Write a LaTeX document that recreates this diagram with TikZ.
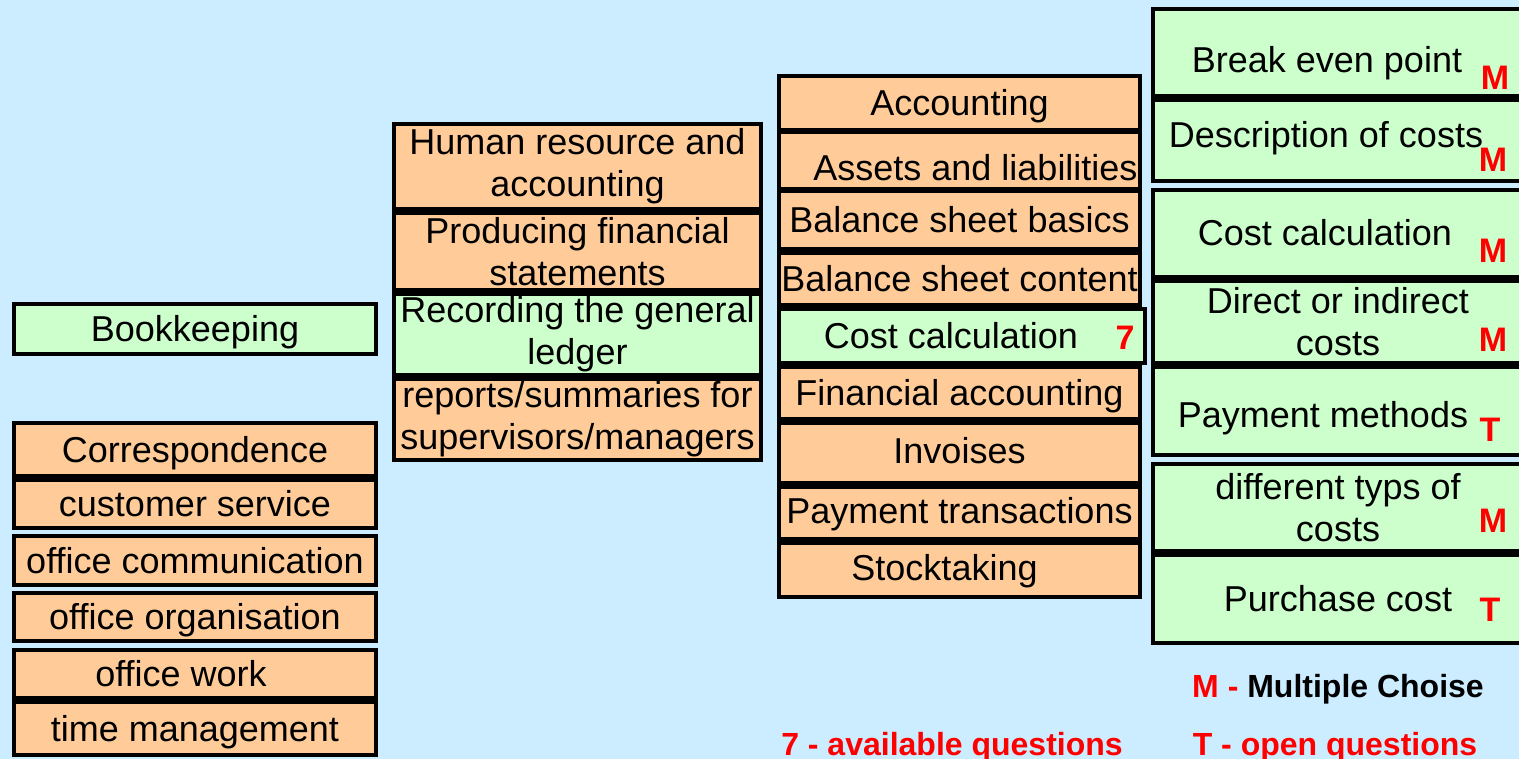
\documentclass[tikz,border=0pt]{standalone}
\usepackage{fontspec}
\setmainfont{Liberation Sans}
\definecolor{bgblue}{HTML}{CCECFF}
\definecolor{boxorange}{HTML}{FFCC99}
\definecolor{boxgreen}{HTML}{CCFFCC}
\tikzset{
  cell/.style={draw, line width=4pt, inner sep=0pt, font=\fontsize{36}{42}\selectfont},
  one/.style={cell, text height=32.6pt, text depth=7.6pt},
  two/.style={cell, align=center},
  og/.style={fill=boxorange},
  gr/.style={fill=boxgreen},
  qtag/.style={inner sep=0pt, text=red, font=\fontsize{34}{34}\selectfont\bfseries},
  legend/.style={anchor=base, inner sep=0pt, font=\fontsize{32}{32}\selectfont\bfseries}
}

\begin{document}
\begin{tikzpicture}[x=1pt, y=-1pt]
  \useasboundingbox (0,0) rectangle (1519,759);
  \fill[bgblue] (0,0) rectangle (1519,759);

  % 左列
  \node[one, gr, minimum width=362pt, minimum height=50pt] (book) at (195,329) {Bookkeeping};
  \foreach \n/\y/\h/\t in {1/449.5/53/Correspondence, 2/504/48/customer service,
      3/560.5/49/office communication, 4/617/48/office organisation,
      5/674/48/{office work\hspace*{28pt}}, 6/728.5/53/time management} {
    \node[one, og, minimum width=362pt, minimum height=\h pt] (off\n) at (195,\y) {\t};
  }

  % 第二列
  \node[two, og, minimum width=367pt, minimum height=85pt] (hr) at (577.5,166.5) {Human resource and\\accounting};
  \node[two, og, minimum width=367pt, minimum height=77pt] (fin) at (577.5,251.5) {Producing financial\\statements};
  \node[two, gr, minimum width=367pt, minimum height=81pt] (ledger) at (577.5,334.5) {Recording the general\\ledger};
  \node[two, og, minimum width=367pt, minimum height=81pt] (rep) at (577.5,419.5) {reports/summaries for\\supervisors/managers};

  % 第三列
  \node[one, og, minimum width=361pt, minimum height=54pt] (acc) at (959.5,103) {Accounting};
  \node[one, og, minimum width=361pt, minimum height=53pt, text height=48.6pt] (assets) at (959.5,160.5) {\hspace*{32pt}Assets and liabilities};
  \node[one, og, minimum width=361pt, minimum height=58pt] (basics) at (959.5,220) {Balance sheet basics};
  \node[one, og, minimum width=361pt, minimum height=52pt] (content) at (959.5,279) {Balance sheet content};
  \node[one, gr, minimum width=366pt, minimum height=54pt] (cost) at (962,336) {Cost calculation\hspace*{22pt}};
  \node[one, og, minimum width=361pt, minimum height=52pt] (finacc) at (959.5,393) {Financial accounting};
  \node[one, og, minimum width=361pt, minimum height=60pt, text depth=11.6pt] (inv) at (959.5,453) {Invoises};
  \node[one, og, minimum width=361pt, minimum height=52pt, text depth=11.6pt] (pay) at (959.5,513) {Payment transactions};
  \node[one, og, minimum width=361pt, minimum height=54pt, text depth=11.6pt] (stock) at (959.5,570) {Stocktaking\hspace*{30pt}};
  \node[qtag] (n7) at (1125,338) {7};

  % 右列
  \node[one, gr, minimum width=370pt, minimum height=87pt, text height=47.6pt] (r1) at (1338,52.5) {Break even point\hspace*{22pt}};
  \node[one, gr, minimum width=370pt, minimum height=81pt, text depth=18.6pt] (r2) at (1338,140.5) {Description of costs\hspace*{24pt}};
  \node[one, gr, minimum width=370pt, minimum height=87pt] (r3) at (1338,233.5) {Cost calculation\hspace*{26pt}};
  \node[two, gr, minimum width=370pt, minimum height=82pt] (r4) at (1338,322) {Direct or indirect\\costs};
  \node[one, gr, minimum width=370pt, minimum height=88pt, text height=40.6pt] (r5) at (1338,411) {Payment methods\hspace*{30pt}};
  \node[two, gr, minimum width=370pt, minimum height=87pt] (r6) at (1338,507.5) {different typs of\\costs};
  \node[one, gr, minimum width=370pt, minimum height=88pt] (r7) at (1338,599) {Purchase cost};

  \node[qtag] (q1) at (1495,78) {M};
  \node[qtag] (q2) at (1493,160) {M};
  \node[qtag] (q3) at (1493,251) {M};
  \node[qtag] (q4) at (1493,340) {M};
  \node[qtag] (q5) at (1490,430) {T};
  \node[qtag] (q6) at (1493,521) {M};
  \node[qtag] (q7) at (1490,610) {T};

  % 图例
  \node[legend] (lgm) at (1338,697) {\textcolor{red}{M -} Multiple Choise};
  \node[legend, text=red] (lgt) at (1335,755) {T - open questions};
  \node[legend, text=red] (lg7) at (952,755) {7 - available questions};
\end{tikzpicture}
\end{document}
